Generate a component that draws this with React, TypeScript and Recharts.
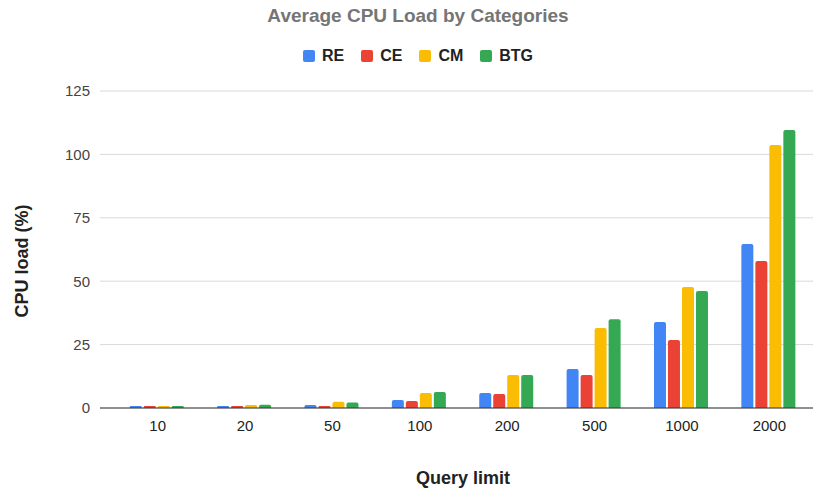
import React from 'react';
import { BarChart, Bar, XAxis, YAxis, CartesianGrid } from 'recharts';

const categories = ['10', '20', '50', '100', '200', '500', '1000', '2000'];
const RE = [0.3, 0.4, 1.2, 3.2, 5.9, 15.4, 33.9, 64.7];
const CE = [0.4, 0.5, 0.8, 2.8, 5.5, 13.0, 26.8, 58.0];
const CM = [0.5, 1.2, 2.5, 5.9, 13.0, 31.5, 47.7, 103.7];
const BTG = [0.8, 1.3, 2.2, 6.3, 13.0, 35.0, 46.1, 109.6];
const yTicks = [0, 25, 50, 75, 100, 125];

const series = [
  { key: 'RE', color: '#4285F4', values: RE },
  { key: 'CE', color: '#EA4335', values: CE },
  { key: 'CM', color: '#FBBC04', values: CM },
  { key: 'BTG', color: '#34A853', values: BTG },
];

const data = categories.map((c, i) => {
  const row: Record<string, string | number> = { name: c };
  series.forEach((s) => (row[s.key] = s.values[i]));
  return row;
});

const font = 'Arial, "Liberation Sans", sans-serif';

export default function App() {
  return (
    <div style={{ position: 'absolute', left: 0, top: 0, width: 817, height: 493, background: '#fff', fontFamily: font }}>
      <div style={{ position: 'absolute', left: 0, top: 5, width: 836, textAlign: 'center', fontSize: 19, fontWeight: 'bold', color: '#757575' }}>
        Average CPU Load by Categories
      </div>
      <div style={{ position: 'absolute', left: 0, top: 47, width: 853, display: 'flex', justifyContent: 'center', alignItems: 'center' }}>
        {series.map((s) => (
          <div key={s.key} style={{ display: 'flex', alignItems: 'center', marginRight: 17 }}>
            <div style={{ width: 12, height: 12, borderRadius: 2, background: s.color, marginRight: 7 }} />
            <span style={{ fontSize: 16, fontWeight: 'bold', color: '#222' }}>{s.key}</span>
          </div>
        ))}
      </div>
      <div style={{ position: 'absolute', left: 22, top: 261, transform: 'translate(-50%, -50%) rotate(-90deg)', whiteSpace: 'nowrap', fontSize: 18, fontWeight: 'bold', color: '#222' }}>
        CPU load (%)
      </div>
      <div style={{ position: 'absolute', left: 463, top: 478, transform: 'translate(-50%, -50%)', whiteSpace: 'nowrap', fontSize: 18, fontWeight: 'bold', color: '#222' }}>
        Query limit
      </div>
      <BarChart
        width={817}
        height={493}
        data={data}
        margin={{ top: 91, right: 4, bottom: 0, left: 0 }}
        barCategoryGap="18%"
        barGap={2}
      >
        <CartesianGrid vertical={false} stroke="#d9d9d9" />
        <XAxis
          dataKey="name"
          tickLine={false}
          tickSize={0}
          tickMargin={12}
          axisLine={{ stroke: '#333' }}
          padding={{ left: 14, right: 0 }}
          tick={{ fontSize: 15, fill: '#222', fontFamily: font }}
          height={85}
        />
        <YAxis
          width={100}
          domain={[0, 125]}
          ticks={yTicks}
          axisLine={false}
          tickLine={false}
          tickSize={0}
          tickMargin={10}
          tick={{ fontSize: 15, fill: '#444', fontFamily: font }}
        />
        {series.map((s) => (
          <Bar key={s.key} dataKey={s.key} fill={s.color} radius={[2, 2, 0, 0]} minPointSize={2} isAnimationActive={false} />
        ))}
      </BarChart>
    </div>
  );
}
